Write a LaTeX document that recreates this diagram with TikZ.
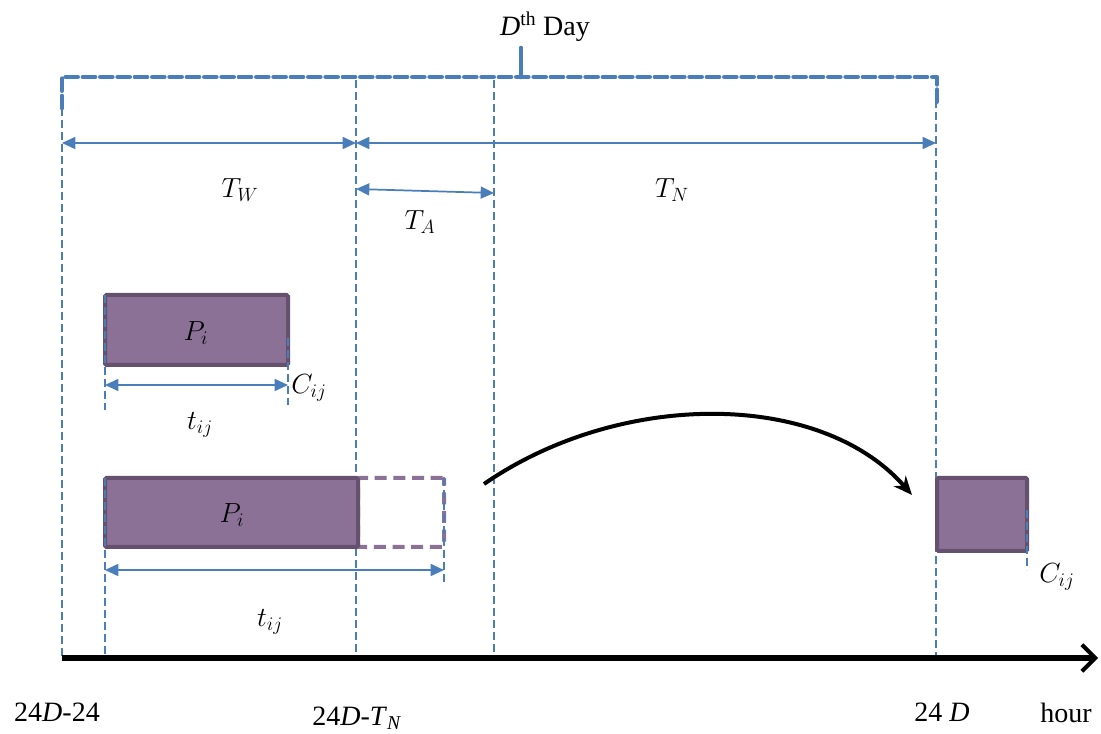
\documentclass[tikz,border=0pt]{standalone}
\usepackage{fontspec}
\setmainfont{Liberation Serif}
\usetikzlibrary{arrows.meta}
\definecolor{bl}{HTML}{4A7EBB}
\definecolor{pfill}{HTML}{8B7196}
\definecolor{pdraw}{HTML}{65506E}
\begin{document}
\begin{tikzpicture}[x=0.75pt,y=-0.75pt,
  guide/.style={draw=bl,line width=1pt,dash pattern=on 6pt off 3pt},
  span/.style={draw=bl,line width=1.3pt,{Triangle[length=10pt,width=9pt]}-{Triangle[length=10pt,width=9pt]}},
  bracket/.style={draw=bl,line width=3.5pt,dash pattern=on 9pt off 4pt,line join=round,line cap=round},
  job/.style={draw=pdraw,fill=pfill,line width=3pt,rounded corners=1pt,inner sep=0pt},
  ghost/.style={draw=pfill,line width=3pt,dash pattern=on 9pt off 5pt,rounded corners=1pt,inner sep=0pt},
  lab/.style={font=\fontsize{21}{25}\selectfont,inner sep=0pt},
  mlab/.style={font=\fontsize{21}{25}\selectfont,inner sep=0pt},
  jump/.style={draw=black,line width=3pt,-{Stealth[length=14pt,width=12pt]}},
  axis/.style={draw=black,line width=4pt,-{Straight Barb[length=10pt,width=20pt,line width=3pt]}}]
\useasboundingbox (0,0) rectangle (1101,734);

% top bracket
\coordinate (bl0) at (62,108);
\coordinate (bl1) at (62,77);
\coordinate (br1) at (937,77);
\coordinate (br0) at (937,103);
\coordinate (bt0) at (521,77);
\coordinate (bt1) at (521,48);
\draw[bracket] (bl0) -- (bl1) -- (br1) -- (br0);
\draw[draw=bl,line width=3.5pt,line cap=round] (bt0) -- (bt1);
\node[lab] (day) at (545,27) {\textit{D}\textsuperscript{th} Day};

% vertical guides
\coordinate (g1t) at (62,108);  \coordinate (g1b) at (62,658);
\coordinate (g2t) at (356,80);  \coordinate (g2b) at (356,658);
\coordinate (g3t) at (494,80);  \coordinate (g3b) at (494,658);
\coordinate (g4t) at (936,100); \coordinate (g4b) at (936,658);
\draw[guide] (g1t) -- (g1b);
\draw[guide] (g2t) -- (g2b);
\draw[guide] (g3t) -- (g3b);
\draw[guide] (g4t) -- (g4b);

% spans
\coordinate (w0) at (62,143);  \coordinate (w1) at (356,143);
\coordinate (n0) at (356,143); \coordinate (n1) at (936,143);
\draw[span] (w0) -- (w1);
\draw[span] (n0) -- (n1);
\coordinate (a0) at (356,189); \coordinate (a1) at (494,193);
\draw[span] (a0) -- (a1);
\node[mlab] (TW) at (240,190) {$T_W$};
\node[mlab] (TN) at (672,190) {$T_N$};
\node[mlab] (TA) at (420,222) {$T_A$};

% job 1
\node[job,minimum width=183*0.75pt,minimum height=70*0.75pt] (p1) at (196.5,330) {};
\node[mlab] (p1l) at (196,333) {$P_i$};
\coordinate (p1a) at (105,295); \coordinate (p1b) at (105,410);
\coordinate (p1c) at (288,338); \coordinate (p1d) at (288,405);
\draw[guide] (p1a) -- (p1b);
\draw[guide] (p1c) -- (p1d);
\coordinate (s1a) at (105,385); \coordinate (s1b) at (288,385);
\draw[span] (s1a) -- (s1b);
\node[mlab] (c1) at (309,388) {$C_{ij}$};
\node[mlab] (t1) at (200,425) {$t_{ij}$};

% job 2
\node[ghost,minimum width=86*0.75pt,minimum height=69*0.75pt] (p2g) at (401,512.5) {};
\node[job,minimum width=253*0.75pt,minimum height=69*0.75pt] (p2) at (231.5,512.5) {};
\node[mlab] (p2l) at (232,515) {$P_i$};
\coordinate (p2a) at (105,478); \coordinate (p2b) at (105,658);
\coordinate (p2c) at (444,478); \coordinate (p2d) at (444,585);
\draw[guide] (p2a) -- (p2b);
\draw[guide] (p2c) -- (p2d);
\coordinate (s2a) at (105,570); \coordinate (s2b) at (444,570);
\draw[span] (s2a) -- (s2b);
\node[mlab] (t2) at (270,622) {$t_{ij}$};

% moved job
\coordinate (m0) at (484,484);
\coordinate (m1) at (912,495);
\draw[jump] (m0) .. controls (620,390) and (820,390) .. (m1);
\node[job,minimum width=90*0.75pt,minimum height=73*0.75pt] (p3) at (982,514.5) {};
\coordinate (p3a) at (1027,510); \coordinate (p3b) at (1027,570);
\draw[guide] (p3a) -- (p3b);
\node[mlab] (c3) at (1057,577) {$C_{ij}$};

% time axis
\coordinate (ax0) at (62,658);
\coordinate (ax1) at (1098,658);
\draw[axis] (ax0) -- (ax1);
\node[lab] (l1) at (57,712) {24\textit{D}-24};
\node[lab] (l2) at (357,718) {24\textit{D}-\textit{T}\textsubscript{\textit{N}}};
\node[lab] (l3) at (942,712) {24 \textit{D}};
\node[lab] (l4) at (1066,713) {hour};
\end{tikzpicture}
\end{document}
